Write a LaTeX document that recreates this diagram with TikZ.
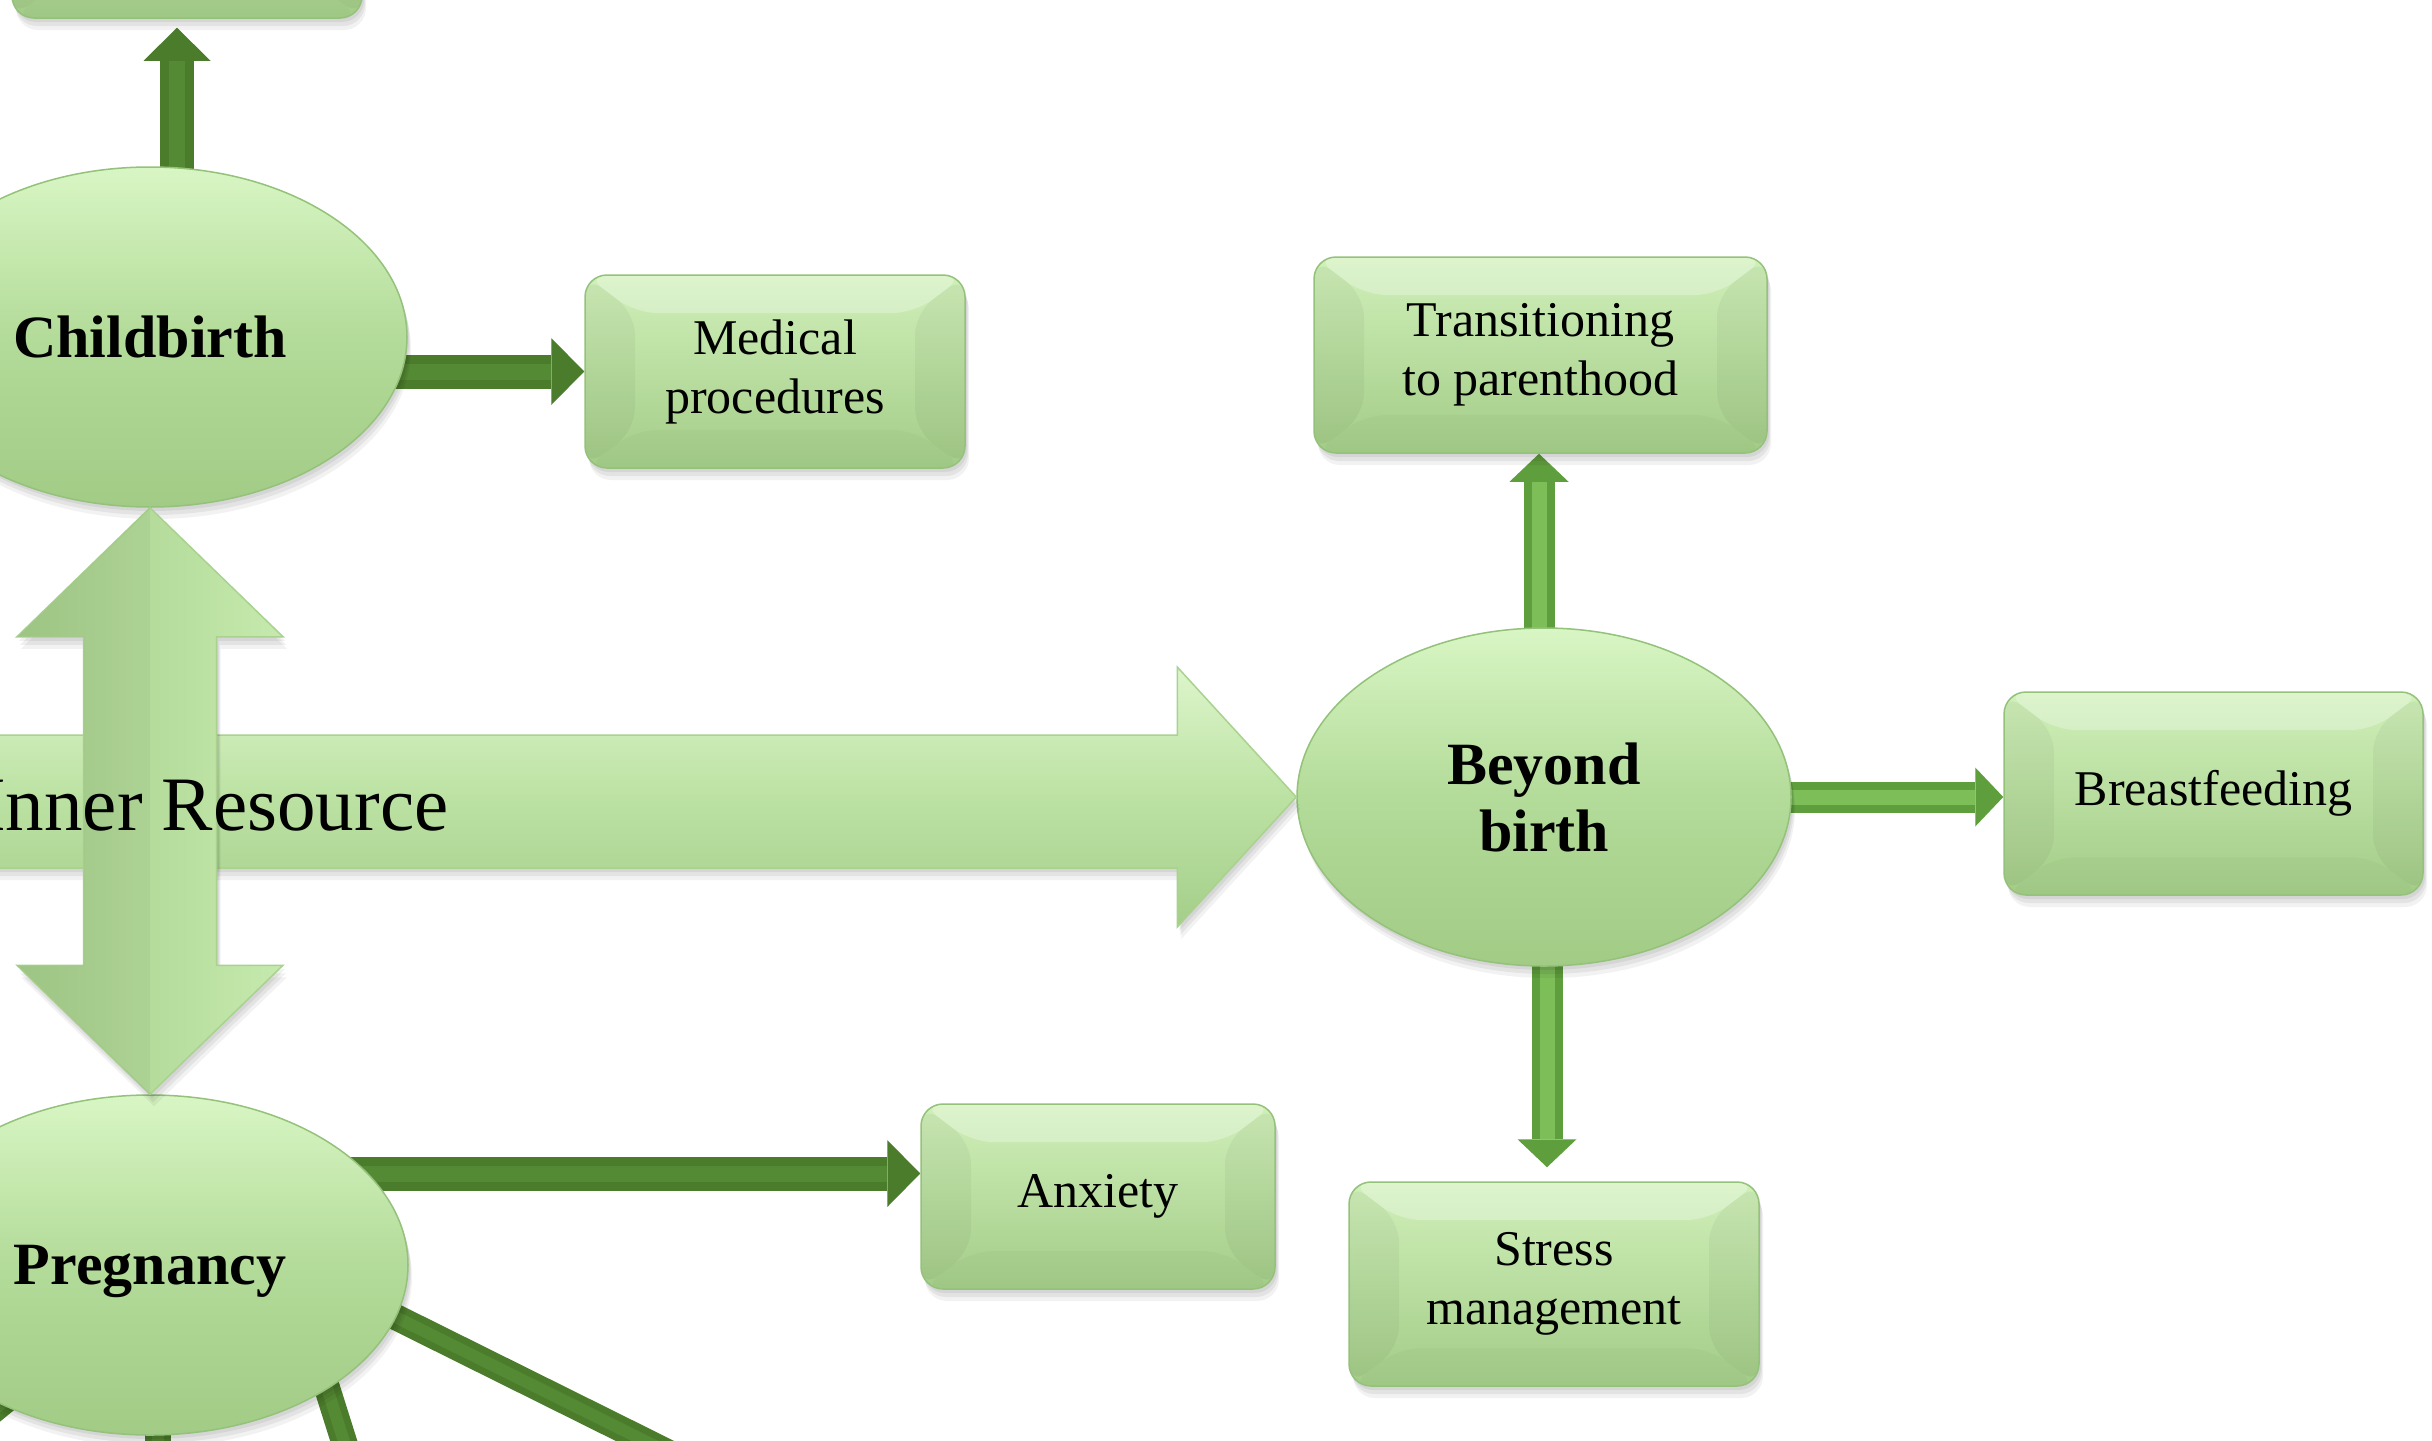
\documentclass[tikz,border=0pt]{standalone}
\usepackage{fontspec}
\setmainfont{Liberation Serif}
\usetikzlibrary{arrows.meta,shapes.geometric,shadows,calc}

\definecolor{boxtop}{HTML}{D0F0BA}
\definecolor{boxbot}{HTML}{A3CC87}
\definecolor{boxedge}{HTML}{94C27A}
\definecolor{elltop}{HTML}{D8F6C4}
\definecolor{ellmid}{HTML}{B3DB99}
\definecolor{ellbot}{HTML}{A2CB86}
\definecolor{arrdark}{HTML}{4B7C2B}
\definecolor{arrdarkhi}{HTML}{558A34}
\definecolor{arrlight}{HTML}{5E9E3C}
\definecolor{arrlighthi}{HTML}{7DBE59}
\definecolor{bigtop}{HTML}{DDF5CB}
\definecolor{bigmid}{HTML}{BCE2A3}
\definecolor{bigbot}{HTML}{A5CE8A}
\definecolor{bigedge}{HTML}{A9D28F}
\definecolor{bigleft}{HTML}{A3CD88}
\definecolor{bigright}{HTML}{C6EAAE}

\pgfdeclarelayer{bg}
\pgfsetlayers{bg,main}

\begin{document}
\begin{tikzpicture}[x=1pt,y=-1pt,
  softshadow/.style={
    general shadow={shadow xshift=2pt, shadow yshift=-4pt, fill=black, opacity=.06},
    general shadow={shadow xshift=3pt, shadow yshift=-8pt, fill=black, opacity=.06},
    general shadow={shadow xshift=4pt, shadow yshift=-12pt, fill=black, opacity=.05}},
  boxnode/.style={rectangle, rounded corners=22pt, draw=boxedge, line width=1.5pt,
    top color=boxtop, bottom color=boxbot, inner sep=0pt, align=center,
    font=\fontsize{50}{59}\selectfont, softshadow,
    path picture={
      \fill[white, opacity=.28] (path picture bounding box.north west)
        -- (path picture bounding box.north east)
        -- ([xshift=-50pt,yshift=-38pt]path picture bounding box.north east)
        -- ([xshift=50pt,yshift=-38pt]path picture bounding box.north west) -- cycle;
      \fill[black, opacity=.04] (path picture bounding box.north west)
        -- ([xshift=50pt,yshift=-38pt]path picture bounding box.north west)
        -- ([xshift=50pt,yshift=38pt]path picture bounding box.south west)
        -- (path picture bounding box.south west) -- cycle;
      \fill[black, opacity=.04] (path picture bounding box.north east)
        -- ([xshift=-50pt,yshift=-38pt]path picture bounding box.north east)
        -- ([xshift=-50pt,yshift=38pt]path picture bounding box.south east)
        -- (path picture bounding box.south east) -- cycle;
      \fill[black, opacity=.02] (path picture bounding box.south west)
        -- ([xshift=50pt,yshift=38pt]path picture bounding box.south west)
        -- ([xshift=-50pt,yshift=38pt]path picture bounding box.south east)
        -- (path picture bounding box.south east) -- cycle;
    }},
  ellnode/.style={ellipse, draw=boxedge, line width=1.5pt,
    top color=elltop, bottom color=ellbot, middle color=ellmid,
    inner sep=0pt, align=center, text depth=0pt,
    font=\bfseries\fontsize{60}{67}\selectfont, softshadow},
  darkarrow/.style={line width=34pt, draw=arrdark,
    -{Triangle[length=33pt,width=67pt,line width=0pt]},
    shorten >=#1,
    postaction={draw=arrdarkhi, line width=16pt, -, shorten >=#1+33pt}},
  darkarrow/.default=0pt,
  lightarrow/.style={line width=31pt, draw=arrlight,
    -{Triangle[length=28pt,width=59pt,line width=0pt]},
    shorten >=#1,
    postaction={draw=arrlighthi, line width=15pt, -, shorten >=#1+28pt}},
  lightarrow/.default=0pt,
  darkline/.style={line width=26pt, draw=arrdark,
    postaction={draw=arrdarkhi, line width=12pt}},
  bigarrow/.style={draw=bigedge, line width=1.5pt, softshadow},
]
\useasboundingbox (0,0) rectangle (2432,1440);

% main stages
\node[ellnode, minimum width=514pt, minimum height=340pt] (cb) at (150,337) {Childbirth};
\node[ellnode, minimum width=516pt, minimum height=340pt] (pg) at (150,1265) {Pregnancy};
\node[ellnode, minimum width=494pt, minimum height=338pt] (bb) at (1544,797) {Beyond\\birth};

% topic boxes
\node[boxnode, minimum width=350pt, minimum height=200pt] (top) at (187,-82) {};
\node[boxnode, minimum width=380pt, minimum height=193pt] (med) at (775,371.5) {Medical\\procedures};
\node[boxnode, minimum width=453pt, minimum height=196pt] (trans) at (1540.5,355) {Transitioning\\to parenthood};
\node[boxnode, minimum width=419pt, minimum height=203pt] (breast) at (2213.5,793.5) {Breastfeeding};
\node[boxnode, minimum width=410pt, minimum height=204pt] (stress) at (1554,1284) {Stress\\management};
\node[boxnode, minimum width=354pt, minimum height=185pt] (anx) at (1098,1196.5) {Anxiety};

% connectors, kept behind the shapes
\coordinate (anxin) at ([yshift=23pt]anx.west);
\coordinate (pgout1) at (800,1518);
\coordinate (pgout2) at (375,1540);
\coordinate (pgout3) at (158,1540);
\coordinate (pgout4) at (-100,1487);
\begin{pgfonlayer}{bg}
  \fill[white] (0,0) rectangle (2432,1440);
  \draw[darkarrow=9pt] ([xshift=27pt]cb.center) -- ([xshift=27pt]cb.center |- top.south);
  \draw[darkarrow] (cb.center |- med.west) -- (med.west);
  \draw[darkarrow] (pg.center |- anxin) -- (anxin);
  \draw[lightarrow] ([xshift=-5pt]bb.center) -- ([xshift=-5pt]bb.center |- trans.south);
  \draw[lightarrow] (bb.center) -- (bb.center -| breast.west);
  \draw[lightarrow=14pt] ([xshift=3pt]bb.center) -- ([xshift=3pt]bb.center |- stress.north);
  \draw[darkline] ($(pg.-12.4)!-40pt!(pgout1)$) -- (pgout1);
  \draw[darkline] ($(pg.-35.2)!-40pt!(pgout2)$) -- (pgout2);
  \draw[darkline] ([xshift=8pt]pg.center) -- (pgout3);
  \draw[darkline] ($(pg.223.6)!-40pt!(pgout4)$) -- (pgout4);
\end{pgfonlayer}

% the wide arrow into "Beyond birth"
\path[bigarrow, top color=bigtop, bottom color=bigbot, middle color=bigmid]
  (bb.west) -- ++(-119,-130) -- ++(0,68) -- ++(-1230,0) -- ++(0,133)
  -- ++(1230,0) -- ++(0,59) -- cycle;

% the double arrow between "Childbirth" and "Pregnancy"
\path[bigarrow, left color=bigleft, right color=bigright]
  (cb.south) -- ++(133,129) -- ++(-66.5,0)
  -- ([xshift=66.5pt,yshift=129pt]pg.north) -- ++(66.5,0) -- (pg.north)
  -- ++(-133,-129) -- ++(66.5,0)
  -- ([xshift=-66.5pt,yshift=-129pt]cb.south) -- ++(-66.5,0) -- cycle;
\fill[black, opacity=.04]
  (cb.south) -- ++(-133,129) -- ++(66.5,0)
  -- ([xshift=-66.5pt,yshift=129pt]pg.north) -- ++(-66.5,0) -- (pg.north) -- cycle;

\node[font=\fontsize{77}{90}\selectfont, anchor=base west, inner sep=0pt]
  (inner) at (-20,830) {Inner Resource};
\end{tikzpicture}
\end{document}
